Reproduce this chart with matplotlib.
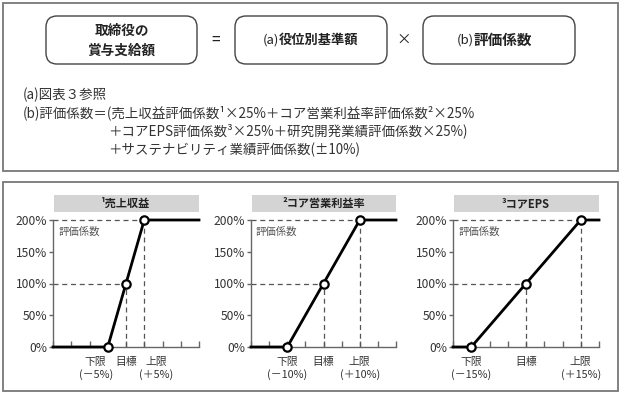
import numpy as np
import matplotlib
matplotlib.use('Agg')
import matplotlib.pyplot as plt
from matplotlib.patches import FancyBboxPatch, Rectangle
from matplotlib.transforms import offset_copy

plt.rcParams['font.family'] = ['Noto Sans CJK JP', 'DejaVu Sans']

# data
titles = ['¹売上収益', '²コア営業利益率', '³コアEPS']
lower = [-5, -10, -15]
target = [0, 0, 0]
upper = [5, 10, 15]
x_min, x_max = -20, 20
coef = [0, 0, 100, 200, 200]
y_ticks = [0, 50, 100, 150, 200]
y_ticklabels = ['0%', '50%', '100%', '150%', '200%']
lower_labels = ['下限\n(－5%)', '下限\n(－10%)', '下限\n(－15%)']
upper_labels = ['上限\n(＋5%)', '上限\n(＋10%)', '上限\n(＋15%)']

note_lines = ['(a)図表３参照',
              '(b)評価係数＝(売上収益評価係数¹×25%＋コア営業利益率評価係数²×25%',
              '＋コアEPS評価係数³×25%＋研究開発業績評価係数×25%)',
              '＋サステナビリティ業績評価係数(±10%)']

W, H = 621, 394
fig = plt.figure(figsize=(W / 100, H / 100), dpi=100)

# overlay in pixel coords
bg = fig.add_axes([0, 0, 1, 1])
bg.set_xlim(0, W)
bg.set_ylim(H, 0)
bg.axis('off')

frame_col = '#777777'
bg.add_patch(Rectangle((2.5, 2.5), 615, 168.5, fill=False, ec=frame_col, lw=1.3))
bg.add_patch(Rectangle((2.5, 182), 615, 209, fill=False, ec=frame_col, lw=1.3))

# formula boxes
for x0, x1 in [(46, 197), (235, 387), (423, 575)]:
    bg.add_patch(FancyBboxPatch((x0, 16), x1 - x0, 48,
                                boxstyle='round,pad=0,rounding_size=11',
                                fc='white', ec='#444444', lw=1.0))
bg.text(121.5, 41, '取締役の\n賞与支給額', ha='center', va='center', fontsize=9.8,
        fontweight='bold', linespacing=1.5, color='#222222')
bg.text(216, 40, '=', ha='center', va='center', fontsize=11, color='#222222')
bg.text(404, 40, '×', ha='center', va='center', fontsize=10.5, color='#222222')
bg.text(279, 40, '(a)', ha='right', va='center', fontsize=9.5, color='#222222')
bg.text(279, 40, '役位別基準額', ha='left', va='center', fontsize=9.5,
        fontweight='bold', color='#222222')
bg.text(474, 40, '(b)', ha='right', va='center', fontsize=9.5, color='#222222')
bg.text(474, 40, '評価係数', ha='left', va='center', fontsize=10.5,
        fontweight='bold', color='#222222')

# notes
note_x = [23, 23, 108, 108]
note_y = [95, 113, 131, 150]
for t, x, y in zip(note_lines, note_x, note_y):
    bg.text(x, y, t, ha='left', va='center', fontsize=9.7, color='#333333')

# charts
ax_px = [(53, 199), (251, 396), (453, 599)]
label_shift = [12, 0, 0]  # px, pushes lower/upper labels apart on the narrow chart
for i in range(3):
    l, r = ax_px[i]
    # header
    bg.add_patch(Rectangle((l + 1, 195), r - l - 1, 17, fc='#d4d4d4', ec='none'))
    bg.text((l + r) / 2, 203.5, titles[i], ha='center', va='center',
            fontsize=8, fontweight='bold', color='#222222')

    ax = fig.add_axes([l / W, 1 - 347 / H, (r - l) / W, 127 / H])
    ax.set_facecolor('none')
    ax.set_xlim(x_min, x_max)
    ax.set_ylim(0, 200)
    for s in ['top', 'right']:
        ax.spines[s].set_visible(False)
    for s in ['left', 'bottom']:
        ax.spines[s].set_color('#666666')
        ax.spines[s].set_linewidth(1.0)

    xs = [x_min, lower[i], target[i], upper[i], x_max]
    # guide lines
    dash = dict(color='#555555', lw=0.9, ls=(0, (4, 3)), zorder=2)
    ax.plot([x_min, upper[i]], [200, 200], clip_on=False, **dash)
    ax.plot([x_min, target[i]], [100, 100], **dash)
    ax.plot([target[i], target[i]], [0, 100], **dash)
    ax.plot([upper[i], upper[i]], [0, 200], **dash)

    ax.plot(xs, coef, color='black', lw=2.0, clip_on=False, zorder=3,
            solid_joinstyle='miter')
    ax.plot(xs[1:4], coef[1:4], ls='none', marker='o', ms=6, mfc='white',
            mec='black', mew=1.6, clip_on=False, zorder=4)

    ax.set_xticks(np.arange(x_min, x_max + 1, 5))
    ax.set_xticklabels([])
    ax.tick_params(axis='x', direction='in', length=4, color='#666666', width=1)
    ax.set_yticks(y_ticks)
    ax.set_yticklabels(y_ticklabels)
    ax.tick_params(axis='y', direction='out', length=3, color='#666666', width=1,
                   labelsize=8.7, labelcolor='#333333', pad=1)

    ax.text(x_min + 1.4, 181, '評価係数', ha='left', va='center', fontsize=7.5,
            color='#555555')

    tr = ax.get_xaxis_transform()
    tr_lo = offset_copy(tr, fig=fig, x=-label_shift[i], y=0, units='dots')
    tr_up = offset_copy(tr, fig=fig, x=label_shift[i], y=0, units='dots')
    ax.text(lower[i], -0.08, lower_labels[i], transform=tr_lo, ha='center', va='top',
            fontsize=7.8, color='#333333', linespacing=1.2)
    ax.text(target[i], -0.08, '目標', transform=tr, ha='center', va='top',
            fontsize=7.8, color='#333333')
    ax.text(upper[i], -0.08, upper_labels[i], transform=tr_up, ha='center', va='top',
            fontsize=7.8, color='#333333', linespacing=1.2)

fig.savefig('out.png', dpi=100)
